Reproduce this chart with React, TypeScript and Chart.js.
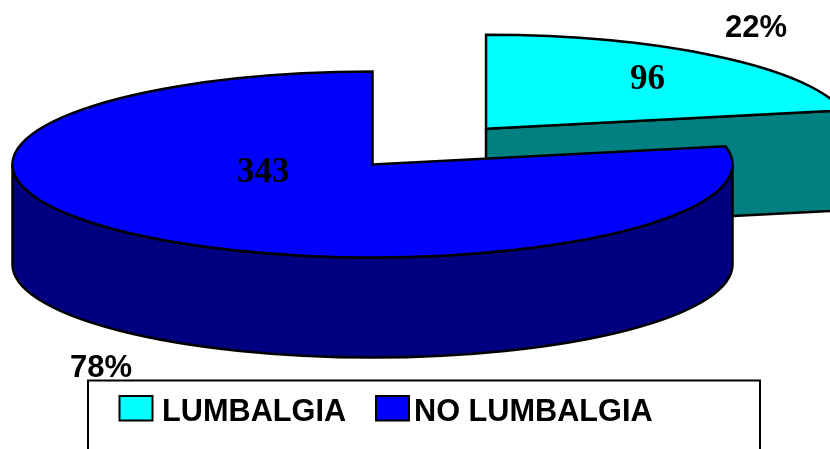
import React, { useEffect, useRef } from "react";
import { Chart, registerables } from "chart.js";

Chart.register(...registerables);

const categories = ["LUMBALGIA", "NO LUMBALGIA"];
const counts = [96, 343];
const percentLabels = ["22%", "78%"];
const topColors = ["#00FFFF", "#0000FF"];
const sideColors = ["#008080", "#000080"];
const sliceOffsets = [716, 0];

const SQUASH = 93 / 360;
const DEPTH = 100;
const LINE = 2.5;

const arcGeometry = (arc: any, centerY: number) => {
  const p = arc.getProps(["x", "y", "startAngle", "endAngle", "outerRadius", "circumference"], true);
  const off = (arc.options.offset || 0) / 4;
  const mid = (p.startAngle + p.endAngle) / 2;
  const fix = 1 - Math.sin(Math.min(Math.PI, p.circumference || 0));
  return {
    cx: p.x + Math.cos(mid) * off,
    cy: centerY + (p.y - centerY) * SQUASH + Math.sin(mid) * off * SQUASH,
    r: p.outerRadius + off * fix,
    start: p.startAngle,
    end: p.endAngle,
  };
};

const pie3d = {
  id: "pie3d",
  beforeDatasetDraw(chart: any, args: any) {
    const { ctx } = chart;
    const arcs = chart.getDatasetMeta(args.index).data;
    const centerY = arcs[0].y;
    ctx.save();
    ctx.lineWidth = LINE;
    ctx.strokeStyle = "#000";
    ctx.lineJoin = "round";
    arcs.forEach((arc: any, i: number) => {
      const g = arcGeometry(arc, centerY);
      ctx.fillStyle = sideColors[i];
      [
        { angle: g.end, facing: Math.cos(g.end) },
        { angle: g.start, facing: -Math.cos(g.start) },
      ].forEach(({ angle, facing }) => {
        if (facing < 0.01) return;
        const rimX = g.cx + Math.cos(angle) * g.r;
        const rimY = g.cy + Math.sin(angle) * g.r * SQUASH;
        ctx.beginPath();
        ctx.moveTo(g.cx, g.cy);
        ctx.lineTo(rimX, rimY);
        ctx.lineTo(rimX, rimY + DEPTH);
        ctx.lineTo(g.cx, g.cy + DEPTH);
        ctx.closePath();
        ctx.fill();
        ctx.stroke();
      });
      const full = Math.PI * 2;
      for (let k = -1; k <= 1; k++) {
        const a0 = Math.max(g.start, k * full);
        const a1 = Math.min(g.end, k * full + Math.PI);
        if (a1 <= a0) continue;
        ctx.beginPath();
        ctx.ellipse(g.cx, g.cy, g.r, g.r * SQUASH, 0, a0, a1);
        ctx.ellipse(g.cx, g.cy + DEPTH, g.r, g.r * SQUASH, 0, a1, a0, true);
        ctx.closePath();
        ctx.fill();
        ctx.stroke();
      }
    });
    ctx.restore();
    ctx.save();
    ctx.translate(0, centerY);
    ctx.scale(1, SQUASH);
    ctx.translate(0, -centerY);
  },
  afterDatasetDraw(chart: any, args: any) {
    const { ctx } = chart;
    ctx.restore();
    const arcs = chart.getDatasetMeta(args.index).data;
    const centerY = arcs[0].y;
    ctx.save();
    ctx.lineWidth = LINE;
    ctx.strokeStyle = "#000";
    ctx.lineJoin = "miter";
    arcs.forEach((arc: any) => {
      const g = arcGeometry(arc, centerY);
      ctx.beginPath();
      ctx.moveTo(g.cx, g.cy);
      ctx.ellipse(g.cx, g.cy, g.r, g.r * SQUASH, 0, g.start, g.end);
      ctx.closePath();
      ctx.stroke();
    });
    ctx.restore();
  },
  afterDraw(chart: any) {
    const { ctx } = chart;
    ctx.save();
    ctx.fillStyle = "#000";
    ctx.textBaseline = "alphabetic";
    ctx.textAlign = "left";

    const values: number[] = chart.data.datasets[0].data;
    ctx.font = 'bold 35px "Liberation Serif"';
    ctx.fillText(String(values[0]), 630, 88.5);
    ctx.fillText(String(values[1]), 237, 181.5);

    ctx.font = 'bold 31px "Liberation Sans"';
    ctx.fillText(percentLabels[0], 725, 37);
    ctx.fillText(percentLabels[1], 70, 376.5);

    ctx.strokeStyle = "#000";
    ctx.lineWidth = 2;
    ctx.beginPath();
    ctx.rect(88, 380.5, 672, 120);
    ctx.stroke();

    ctx.font = 'bold 30.7px "Liberation Sans"';
    const legendBoxes = [119.5, 376];
    const legendTexts = [162, 414];
    chart.data.labels.forEach((label: string, i: number) => {
      ctx.fillStyle = topColors[i];
      ctx.fillRect(legendBoxes[i], 396, 33, 24.5);
      ctx.lineWidth = 2;
      ctx.strokeRect(legendBoxes[i], 396, 33, 24.5);
      ctx.fillStyle = "#000";
      ctx.fillText(label, legendTexts[i], 421);
    });
    ctx.restore();
  },
};

export default function App() {
  const ref = useRef<HTMLCanvasElement>(null);
  useEffect(() => {
    const chart = new Chart(ref.current as HTMLCanvasElement, {
      type: "pie",
      data: {
        labels: categories,
        datasets: [
          {
            data: counts,
            backgroundColor: topColors,
            borderWidth: 0,
            offset: sliceOffsets,
            hoverOffset: 0,
            clip: false,
          } as any,
        ],
      },
      options: {
        animation: false,
        responsive: false,
        radius: 360,
        cutout: "0%",
        layout: { padding: { left: 0, top: 0, right: 85, bottom: 120 } },
        plugins: {
          legend: { display: false },
          title: { display: false },
          tooltip: { enabled: false },
        },
      } as any,
      plugins: [pie3d],
    });
    return () => chart.destroy();
  }, []);
  return (
    <canvas
      ref={ref}
      width={830}
      height={449}
      style={{ position: "fixed", left: 0, top: 0, width: 830, height: 449, background: "#fff" }}
    />
  );
}
